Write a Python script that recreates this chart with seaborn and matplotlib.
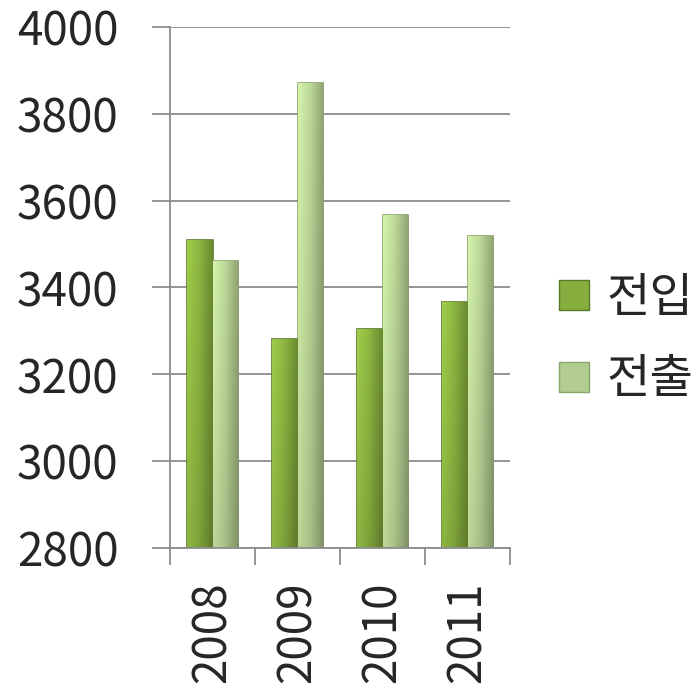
import pandas as pd
import numpy as np
import matplotlib.pyplot as plt
import seaborn as sns
from matplotlib.lines import Line2D

# data
years = ['2008', '2009', '2010', '2011']
move_in = [3509, 3281, 3305, 3366]    # 전입
move_out = [3461, 3870, 3568, 3518]   # 전출
series = ['전입', '전출']
colors = ['#86AD3E', '#B3CD90']
edge_colors = ['#5A7A2A', '#8AA56A']

df = pd.DataFrame({
    'year': years * 2,
    'value': move_in + move_out,
    'kind': [series[0]] * 4 + [series[1]] * 4,
})

sns.set_style('white')
plt.rcParams['font.family'] = ['Noto Sans CJK KR', 'DejaVu Sans']

fig = plt.figure(figsize=(6.98, 6.95), dpi=100)
ax = fig.add_axes([0.2436, 0.2115, 0.4871, 0.7497])

sns.barplot(data=df, x='year', y='value', hue='kind', palette=colors,
            width=0.59, gap=0, ax=ax, legend=False, saturation=1)

# shade the bars: lighter at the top and left, darker toward the right edge
for i, p in enumerate(ax.patches):
    k = i // 4
    p.set_edgecolor(edge_colors[k])
    p.set_linewidth(1.2)
    x0, w = p.get_x(), p.get_width()
    top = p.get_y() + p.get_height()
    base = np.array(plt.matplotlib.colors.to_rgb(colors[k]))
    light = np.clip(base * 1.12, 0, 1)
    dark = base * 0.75
    nx, ny = 40, 60
    img = np.zeros((ny, nx, 3))
    for j in range(nx):
        t = j / (nx - 1)
        if t < 0.45:
            c = light + (base - light) * (t / 0.45)
        else:
            c = base + (dark - base) * ((t - 0.45) / 0.55)
        for r in range(ny):
            s = r / (ny - 1)  # 0 at top
            img[r, j] = np.clip(c * (1.06 - 0.12 * s), 0, 1)
    im = ax.imshow(img, extent=[x0, x0 + w, 2800, top], origin='upper',
                   aspect='auto', zorder=p.get_zorder(), interpolation='bicubic')
    im.set_clip_path(p)

ax.set_xlim(-0.5, 3.5)
ax.set_ylim(2800, 4000)
ax.set_yticks([2800, 3000, 3200, 3400, 3600, 3800, 4000])
ax.set_xlabel('')
ax.set_ylabel('')

ax.yaxis.grid(True, color='#8C8C8C', linewidth=1.3)
ax.set_axisbelow(True)
for s in ['top', 'right']:
    ax.spines[s].set_visible(False)
for s in ['left', 'bottom']:
    ax.spines[s].set_color('#8C8C8C')
    ax.spines[s].set_linewidth(1.3)

ax.tick_params(axis='y', length=13, width=1.3, color='#8C8C8C', labelsize=33,
               pad=24, left=True)
ax.set_xticks([0, 1, 2, 3])
ax.set_xticklabels(years, rotation=90)
ax.tick_params(axis='x', length=0, labelsize=33, pad=24)
ax.set_xticks([-0.5, 0.5, 1.5, 2.5, 3.5], minor=True)
ax.tick_params(axis='x', which='minor', length=12, width=1.3, color='#8C8C8C', bottom=True)

handles = [Line2D([], [], marker='s', linestyle='', markersize=21,
                  markerfacecolor=colors[i], markeredgecolor=edge_colors[i])
           for i in range(2)]
fig.legend(handles, series, loc='center left', bbox_to_anchor=(0.795, 0.512),
           frameon=False, fontsize=34, handletextpad=0.3, labelspacing=0.7,
           handlelength=0.8, borderaxespad=0, borderpad=0)

fig.savefig('out.png', dpi=100)
